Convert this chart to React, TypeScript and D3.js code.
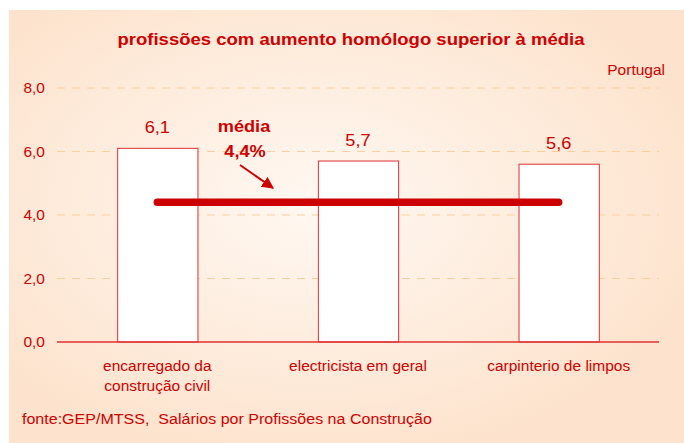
import React from "react";
import * as d3 from "d3";

const categories = ["encarregado da\nconstrução civil", "electricista em geral", "carpinterio de limpos"];
const values = [6.1, 5.7, 5.6];
const yTicks = [0, 2, 4, 6, 8];
const meanValue = 4.4;
const title = "profissões com aumento homólogo superior à média";
const source = "fonte:GEP/MTSS,\u00a0 Salários por Profissões na Construção";

const W = 684, H = 443;
const plot = { left: 57, right: 659, top: 88, bottom: 342 };
const RED = "#d00000";
const FONT = "'Liberation Sans', Arial, sans-serif";
const SX = 1.07;

function T({ x, y, anchor = "start", size, bold = false, children, sx = SX }: any) {
  return (
    <text
      transform={`translate(${x},${y}) scale(${sx},1)`}
      textAnchor={anchor}
      fontSize={size}
      fontWeight={bold ? "bold" : "normal"}
      fill={RED}
    >
      {children}
    </text>
  );
}

export default function App() {
  const x = d3.scaleBand<number>().domain(d3.range(categories.length)).range([plot.left, plot.right]).paddingInner(0.6).paddingOuter(0.3);
  const y = d3.scaleLinear().domain([0, 8]).range([plot.bottom, plot.top]);
  const fmt = (v: number) => v.toFixed(1).replace(".", ",");
  const c0 = x(0)! + x.bandwidth() / 2;
  const c2 = x(2)! + x.bandwidth() / 2;
  const ym = y(meanValue);
  return (
    <svg width={W} height={H} style={{ position: "absolute", left: 0, top: 0 }} fontFamily={FONT}>
      <defs>
        <radialGradient id="bg" cx="0.45" cy="0.45" r="0.6">
          <stop offset="0" stopColor="#fff8f2" />
          <stop offset="1" stopColor="#fde3cd" />
        </radialGradient>
        <marker id="arr" viewBox="0 0 10 10" refX="9" refY="5" markerWidth="6" markerHeight="6" orient="auto" markerUnits="strokeWidth">
          <path d="M0,0 L10,5 L0,10 z" fill={RED} />
        </marker>
      </defs>
      <rect x={0} y={0} width={W} height={H} fill="#fff" />
      <rect x={9} y={10} width={W - 9} height={H - 10} fill="url(#bg)" />
      <T x={351} y={45} anchor="middle" size={17} bold sx={1.09}>{title}</T>
      <T x={665} y={75} anchor="end" size={14.5}>Portugal</T>
      {yTicks.map((t) => (
        <g key={t}>
          {t > 0 && <line x1={plot.left} x2={plot.right} y1={y(t)} y2={y(t)} stroke="#fccf9c" strokeWidth={1} strokeDasharray="8,7" />}
          <T x={45} y={y(t) + 5} anchor="end" size={14.5}>{fmt(t)}</T>
        </g>
      ))}
      {values.map((v, i) => (
        <g key={i}>
          <rect x={x(i)! + 0.5} y={y(v)} width={x.bandwidth()} height={plot.bottom - y(v)} fill="#fff" stroke="#e03030" strokeWidth={1} />
          <T x={x(i)! + x.bandwidth() / 2} y={y(v) - 15} anchor="middle" size={17}>{fmt(v)}</T>
          {categories[i].split("\n").map((line, j) => (
            <T key={j} x={x(i)! + x.bandwidth() / 2} y={371 + j * 20} anchor="middle" size={14.5}>{line}</T>
          ))}
        </g>
      ))}
      <line x1={plot.left} x2={plot.right} y1={plot.bottom} y2={plot.bottom} stroke="#e03030" strokeWidth={1.5} />
      <line x1={c0} x2={c2} y1={ym} y2={ym} stroke="#cc0000" strokeWidth={7.5} strokeLinecap="round" />
      <T x={244} y={132} anchor="middle" size={17} bold>média</T>
      <T x={245} y={157} anchor="middle" size={17} bold>4,4%</T>
      <line x1={240} y1={165} x2={273} y2={188} stroke={RED} strokeWidth={2} markerEnd="url(#arr)" />
      <T x={22} y={424} size={15}>{source}</T>
    </svg>
  );
}
